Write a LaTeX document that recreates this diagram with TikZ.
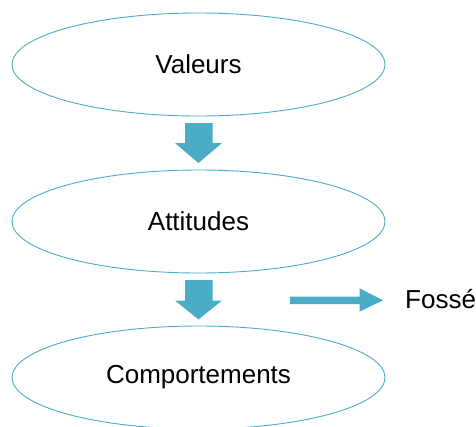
\documentclass[tikz,border=0pt]{standalone}
\usepackage{fontspec}
\setmainfont{Liberation Sans}
\usetikzlibrary{shapes.geometric}
\definecolor{accent}{HTML}{4BACC6}
\begin{document}
\begin{tikzpicture}[x=1pt,y=-1pt,
  oval/.style={ellipse, draw=accent, line width=0.9pt, minimum width=373pt, minimum height=103pt, inner sep=0pt, font=\fontsize{26pt}{30pt}\selectfont},
  blockarrow/.style={fill=accent, draw=none}]
\useasboundingbox (0,0) rectangle (476,426);
\node[oval] (v) at (198.5,64.5) {Valeurs};
\node[oval] (a) at (198.5,221.5) {Attitudes};
\node[oval] (c) at (198.5,377.5) {Comportements};
% down arrow 1
\fill[blockarrow] (185,123) -- (212.5,123) -- (212.5,143) -- (222,143) -- (198.5,163) -- (175,143) -- (185,143) -- cycle;
% down arrow 2
\fill[blockarrow] (185,280) -- (212.5,280) -- (212.5,300.5) -- (222,300.5) -- (198.5,319.5) -- (175,300.5) -- (185,300.5) -- cycle;
% right arrow
\fill[blockarrow] (290,296.5) -- (359.5,296.5) -- (359.5,288.3) -- (383,300.3) -- (359.5,311.7) -- (359.5,304) -- (290,304) -- cycle;
\node[anchor=base west, inner sep=0pt, font=\fontsize{26pt}{30pt}\selectfont] (f) at (405,308.5) {Fossé};
\end{tikzpicture}
\end{document}
